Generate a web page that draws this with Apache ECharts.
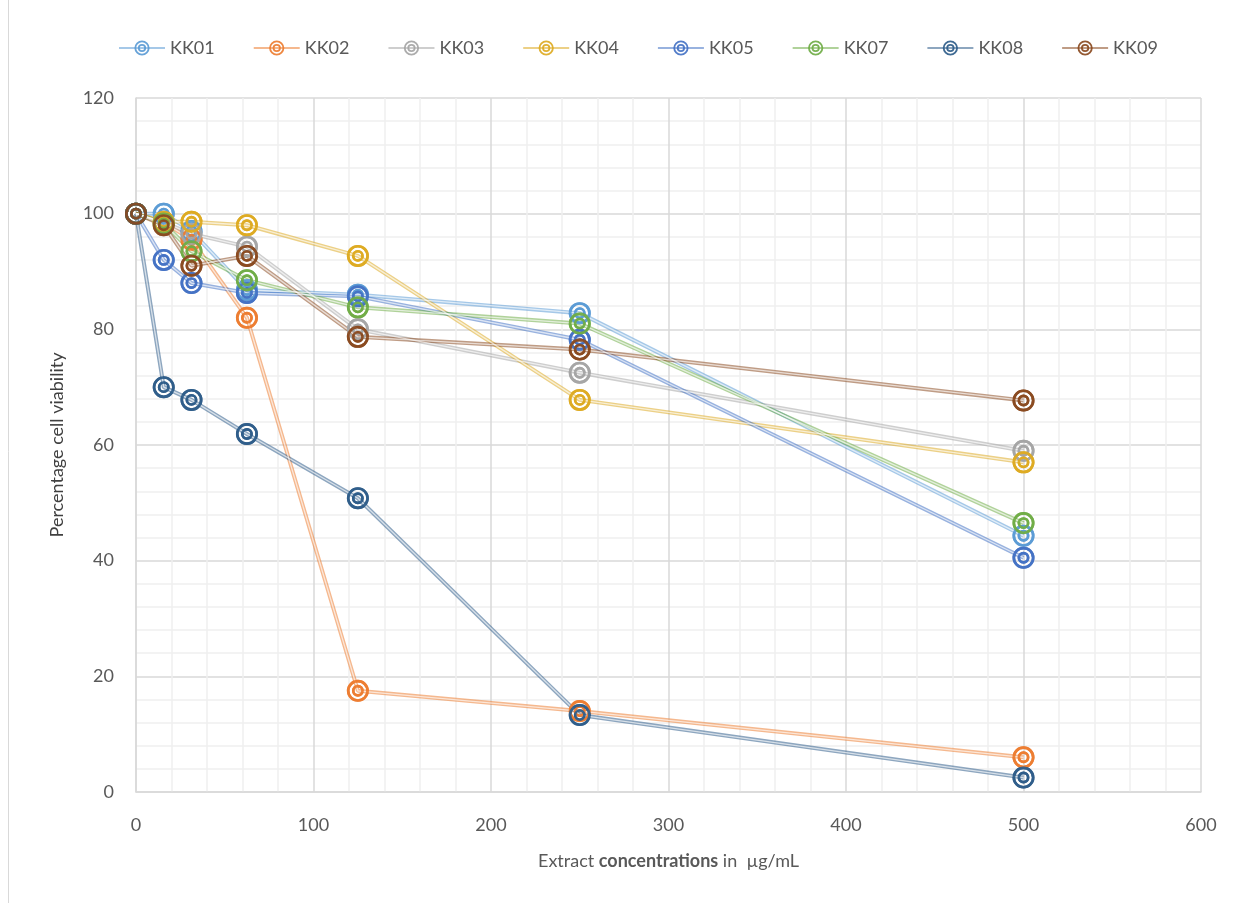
<!DOCTYPE html>
<html>
<head>
<meta charset="utf-8">
<script src="https://cdn.jsdelivr.net/npm/echarts@6/dist/echarts.min.js"></script>
<style>
  html, body { margin: 0; padding: 0; background: #ffffff; }
  #chart { width: 1242px; height: 903px; }
</style>
</head>
<body>
<div id="chart"></div>
<script>
// Extract concentrations (µg/mL)
const concentrations = [0, 15.625, 31.25, 62.5, 125, 250, 500];

// Percentage cell viability per extract
const seriesNames = ['KK01', 'KK02', 'KK03', 'KK04', 'KK05', 'KK07', 'KK08', 'KK09'];
const kk01 = [100, 100, 97, 86.8, 86, 82.8, 44.3];
const kk02 = [100, 98.5, 95.5, 82, 17.5, 14, 6];
const kk03 = [100, 98.5, 96.5, 94.3, 80, 72.5, 59];
const kk04 = [100, 98.6, 98.6, 98, 92.7, 67.8, 57];
const kk05 = [100, 92, 88, 86.3, 85.7, 78.2, 40.5];
const kk07 = [100, 98.3, 93.5, 88.5, 83.8, 81, 46.5];
const kk08 = [100, 70, 67.8, 61.9, 50.8, 13.3, 2.5];
const kk09 = [100, 98, 91, 92.7, 78.7, 76.5, 67.7];
const seriesValues = [kk01, kk02, kk03, kk04, kk05, kk07, kk08, kk09];

const palette = ['#5B9BD5', '#ED7D31', '#A5A5A5', '#DDAA22', '#4472C4', '#70AD47', '#2F5D8A', '#8A4A20'];

// Double-ring marker: outer annulus + inner annulus
function ring(r1, r2) {
  return 'M 0 ' + (-r1) + ' A ' + r1 + ' ' + r1 + ' 0 1 1 0 ' + r1 + ' A ' + r1 + ' ' + r1 + ' 0 1 1 0 ' + (-r1) + ' Z ' +
         'M 0 ' + (-r2) + ' A ' + r2 + ' ' + r2 + ' 0 1 0 0 ' + r2 + ' A ' + r2 + ' ' + r2 + ' 0 1 0 0 ' + (-r2) + ' Z ';
}
const markerPath = 'path://' + ring(10, 7.6) + ring(5.4, 3.0);

const font = 'Lato, "Open Sans", sans-serif';
const textColor = '#595959';

const chart = echarts.init(document.getElementById('chart'), null, { renderer: 'canvas' });

const series = [];
seriesNames.forEach((name, i) => {
  const data = concentrations.map((c, j) => [c, seriesValues[i][j]]);
  // coloured band of the double line (also provides the legend icon)
  series.push({
    name: name,
    type: 'line',
    data: data,
    symbol: markerPath,
    symbolSize: 22,
    showAllSymbol: true,
    lineStyle: { color: palette[i], width: 4, opacity: 0.55 },
    itemStyle: { color: palette[i], opacity: 0.92 },
    emphasis: { disabled: true },
    z: 2
  });
  // light centre stroke splitting the band into two thin lines
  series.push({
    name: name + ' centre',
    type: 'line',
    data: data,
    symbol: 'none',
    silent: true,
    lineStyle: { color: '#ffffff', width: 1.3, opacity: 0.65 },
    emphasis: { disabled: true },
    z: 3
  });
  // ring markers drawn above the lines
  series.push({
    name: name + ' markers',
    type: 'scatter',
    data: data,
    symbol: markerPath,
    symbolSize: 22,
    silent: true,
    itemStyle: { color: palette[i], opacity: 0.92 },
    emphasis: { disabled: true },
    z: 4
  });
});

chart.setOption({
  animation: false,
  backgroundColor: '#ffffff',
  color: palette,
  legend: {
    top: 34,
    left: 113,
    itemWidth: 46,
    itemHeight: 19,
    itemGap: 38,
    textStyle: { fontFamily: font, fontSize: 18, color: textColor },
    data: seriesNames
  },
  grid: { left: 136, right: 41, top: 98, bottom: 111, containLabel: false },
  xAxis: {
    type: 'value',
    min: 0,
    max: 600,
    interval: 100,
    axisLine: { show: true, lineStyle: { color: '#D9D9D9', width: 1.5 } },
    axisTick: { show: false },
    minorTick: { show: false, splitNumber: 5 },
    splitLine: { show: true, lineStyle: { color: '#D9D9D9', width: 1.5 } },
    minorSplitLine: { show: true, lineStyle: { color: '#F0F0F0', width: 1.5 } },
    axisLabel: { fontFamily: font, fontSize: 18, color: textColor, margin: 24 },
    name: '{n|Extract }{b|concentrations}{n| in  µg/mL}',
    nameLocation: 'middle',
    nameGap: 60,
    nameTextStyle: {
      rich: {
        n: { fontFamily: font, fontSize: 18, color: textColor },
        b: { fontFamily: font, fontSize: 18, color: textColor, fontWeight: 'bold' }
      }
    }
  },
  yAxis: {
    type: 'value',
    min: 0,
    max: 120,
    interval: 20,
    axisLine: { show: true, lineStyle: { color: '#D9D9D9', width: 1.5 } },
    axisTick: { show: false },
    minorTick: { show: false, splitNumber: 5 },
    splitLine: { show: true, lineStyle: { color: '#D9D9D9', width: 1.5 } },
    minorSplitLine: { show: true, lineStyle: { color: '#F0F0F0', width: 1.5 } },
    axisLabel: { fontFamily: font, fontSize: 18, color: textColor, margin: 22 },
    name: 'Percentage cell viability',
    nameLocation: 'middle',
    nameGap: 70,
    nameTextStyle: { fontFamily: font, fontSize: 18, color: '#404040' }
  },
  graphic: [{
    type: 'line',
    shape: { x1: 8.5, y1: 0, x2: 8.5, y2: 903 },
    style: { stroke: '#D9D9D9', lineWidth: 1 },
    silent: true
  }],
  series: series
});
</script>
</body>
</html>
